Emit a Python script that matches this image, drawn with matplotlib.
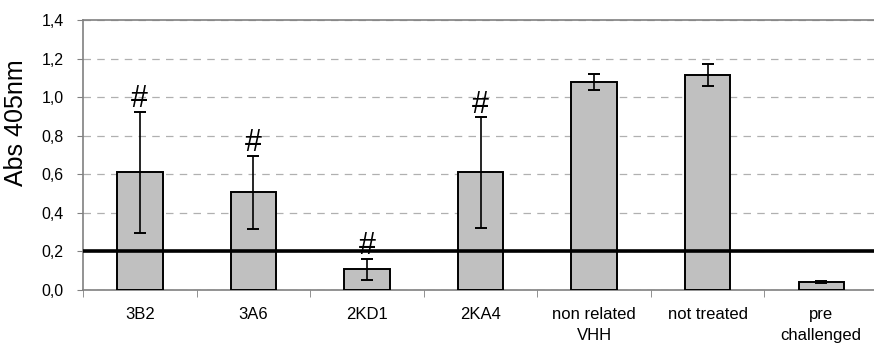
import matplotlib
matplotlib.use("Agg")
import matplotlib.pyplot as plt
from matplotlib.ticker import FixedLocator, FuncFormatter

plt.rcParams['font.family'] = ['Liberation Sans', 'DejaVu Sans']

categories = ["3B2", "3A6", "2KD1", "2KA4", "non related\nVHH", "not treated", "pre\nchallenged"]
means = [0.61, 0.506, 0.108, 0.61, 1.079, 1.114, 0.041]
errors = [0.315, 0.19, 0.055, 0.288, 0.042, 0.056, 0.005]
significant = [True, True, True, True, False, False, False]
threshold = 0.2

fig = plt.figure(figsize=(8.74, 3.5), dpi=100)
ax = fig.add_axes([83 / 874, 60 / 350, 795 / 874, 270 / 350])

x = list(range(len(categories)))
ax.bar(x, means, width=0.4, color="#c0c0c0", edgecolor="black", linewidth=1.4, zorder=3)
ax.errorbar(x, means, yerr=errors, fmt="none", ecolor="black", elinewidth=1.2,
            capsize=4.5, capthick=1.4, zorder=4)

for xi, m, e, s in zip(x, means, errors, significant):
    if s:
        ax.text(xi, m + e - 0.014, "#", ha="center", va="bottom", fontsize=22, zorder=5)

ax.axhline(threshold, color="black", linewidth=2.6, zorder=5)

ax.set_xlim(-0.5, len(categories) - 0.5)
ax.set_ylim(0, 1.4)
ax.yaxis.set_major_locator(FixedLocator([0, 0.2, 0.4, 0.6, 0.8, 1.0, 1.2, 1.4]))
ax.yaxis.set_major_formatter(FuncFormatter(lambda v, p: f"{v:.1f}".replace(".", ",")))
ax.grid(axis="y", linestyle=(0, (6, 5)), color="#b0b0b0", linewidth=0.9, zorder=0)

ax.set_xticks(x)
ax.set_xticklabels(categories, fontsize=12, linespacing=1.55)
ax.xaxis.set_minor_locator(FixedLocator([i + 0.5 for i in range(-1, len(categories))]))
ax.tick_params(axis="x", which="major", length=0, pad=12)
ax.tick_params(axis="x", which="minor", length=5, color="#808080", direction="out")
ax.tick_params(axis="y", length=4, color="#808080", labelsize=11.5, pad=10)

for side in ["top", "left", "bottom"]:
    ax.spines[side].set_color("#808080")
    ax.spines[side].set_linewidth(1.2)
ax.spines["right"].set_visible(False)

ax.set_ylabel("Abs 405nm", fontsize=18)
ax.yaxis.set_label_coords(-0.069, 0.62)

fig.savefig("out.png", dpi=100)
